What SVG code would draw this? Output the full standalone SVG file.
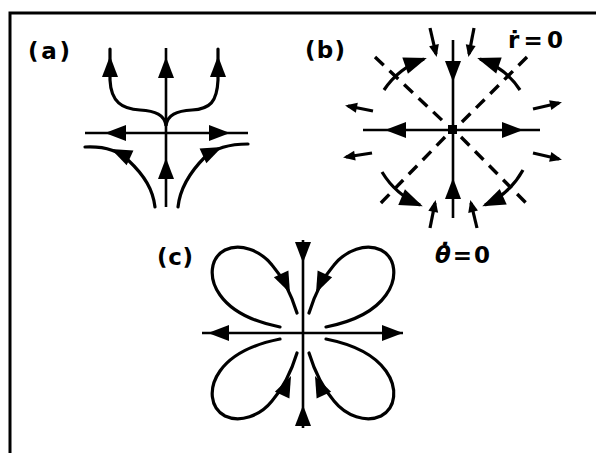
<svg xmlns="http://www.w3.org/2000/svg" xmlns:xlink="http://www.w3.org/1999/xlink" width="596" height="453" viewBox="0 0 596 453">
<style>
.ax{stroke:#000;stroke-width:2.6;fill:none}
.cv{stroke:#000;stroke-width:3.2;fill:none;stroke-linecap:round}
.ds{stroke:#000;stroke-width:3.4;fill:none;stroke-dasharray:12 8}
.sm{stroke:#000;stroke-width:3.2;fill:none;marker-end:url(#ms)}
.ar{stroke:#000;stroke-width:3.2;fill:none;marker-end:url(#mb)}
.lb{font-family:"DejaVu Sans","Liberation Sans",sans-serif;font-size:23px;font-weight:bold;fill:#000}
.hd{fill:#000}
</style>
<defs>
<path id="ah" d="M0,0 L-21,-8 L-21,8 Z"/>
<marker id="mb" viewBox="-24 -10 28 20" refX="0" refY="0" markerWidth="28" markerHeight="20" orient="auto" markerUnits="userSpaceOnUse"><path d="M3,0 L-20,-8.5 L-20,8.5 Z"/></marker>
<marker id="ms" viewBox="-12 -6 16 12" refX="0" refY="0" markerWidth="16" markerHeight="12" orient="auto" markerUnits="userSpaceOnUse"><path d="M3,0 L-9,-5 L-9,5 Z"/></marker>
</defs>
<rect x="10" y="13" width="620" height="480" fill="none" stroke="#000" stroke-width="3"/>

<g id="panel-a">
<text class="lb" x="28" y="59" textLength="42">(a)</text>
<path class="ax" d="M85,133 H248 M166,48 V207"/>
<path class="cv" d="M110,49 L110,80 C111,102 122,109 140,110 C156,111 164,115 166,125"/>
<path class="cv" d="M218,49 L218,80 C217,102 210,109 192,110 C176,111 168,115 166,125"/>
<path class="cv" d="M85,147 C105,146 118,150 128,160 C145,176 153,190 155,207"/>
<path class="cv" d="M248,144 C228,144 215,148 205,157 C190,172 180,188 178,207"/>
<g class="hd">
<use xlink:href="#ah" transform="translate(105,133) rotate(180)"/>
<use xlink:href="#ah" transform="translate(230,133)"/>
<use xlink:href="#ah" transform="translate(166,57) rotate(-90)"/>
<use xlink:href="#ah" transform="translate(166,158) rotate(-90)"/>
<use xlink:href="#ah" transform="translate(110,56) rotate(-90)"/>
<use xlink:href="#ah" transform="translate(218,56) rotate(-90)"/>
<use xlink:href="#ah" transform="translate(111,149) rotate(-155)"/>
<use xlink:href="#ah" transform="translate(222,147) rotate(-25)"/>
</g>
</g>

<g id="panel-b">
<text class="lb" x="305" y="58" textLength="40">(b)</text>
<text class="lb" x="508" y="48" font-size="22" textLength="55">ṙ=0</text>
<text class="lb" x="435" y="263" font-size="22" textLength="55"><tspan font-style="italic">θ̇</tspan>=0</text>
<path class="ds" d="M375,57 L445,123 M461,137 L530,207 M527,57 L461,123 M445,137 L377,207"/>
<path class="ax" d="M363,130 H540 M453,40 V218"/>
<rect x="448" y="125" width="9" height="9" fill="#000"/>
<g class="hd">
<use xlink:href="#ah" transform="translate(453,82) rotate(90)"/>
<use xlink:href="#ah" transform="translate(453,178) rotate(-90)"/>
<use xlink:href="#ah" transform="translate(385,130) rotate(180)"/>
<use xlink:href="#ah" transform="translate(523,130)"/>
</g>
<path class="ar" d="M384,90 A80,80 0 0 1 424,59"/>
<path class="ar" d="M520,90 A78,78 0 0 0 480,59"/>
<path class="ar" d="M382,172 A82,82 0 0 0 420,205"/>
<path class="ar" d="M523,170 A82,82 0 0 1 485,205"/>
<path class="sm" d="M430,28 L436,54"/>
<path class="sm" d="M474,28 L469,54"/>
<path class="sm" d="M373,111 L348,106"/>
<path class="sm" d="M533,109 L559,103"/>
<path class="sm" d="M372,153 L346,157"/>
<path class="sm" d="M533,153 L559,159"/>
<path class="sm" d="M430,228 L435,203"/>
<path class="sm" d="M477,228 L471,203"/>
</g>

<g id="panel-c">
<text class="lb" x="157" y="265" textLength="36">(c)</text>
<path class="ax" d="M202,333 H403 M303,240 V428"/>
<path class="cv" d="M280,327 C255,322 232,312 220,295 C208,278 210,258 225,250 C240,243 260,250 272,265 C285,280 293,300 297,313"/>
<path class="cv" d="M326,327 C351,322 374,312 386,295 C398,278 396,258 381,250 C366,243 346,250 334,265 C321,280 313,300 309,313"/>
<path class="cv" d="M280,339 C255,344 232,354 220,371 C208,388 210,408 225,416 C240,423 260,416 272,401 C285,386 293,366 297,353"/>
<path class="cv" d="M326,339 C351,344 374,354 386,371 C398,388 396,408 381,416 C366,423 346,416 334,401 C321,386 313,366 309,353"/>
<g class="hd">
<use xlink:href="#ah" transform="translate(303,263) rotate(90)"/>
<use xlink:href="#ah" transform="translate(303,405) rotate(-90)"/>
<use xlink:href="#ah" transform="translate(208,333) rotate(180)"/>
<use xlink:href="#ah" transform="translate(403,333)"/>
<use xlink:href="#ah" transform="translate(290,293) rotate(65)"/>
<use xlink:href="#ah" transform="translate(316,293) rotate(115)"/>
<use xlink:href="#ah" transform="translate(291,376) rotate(-65)"/>
<use xlink:href="#ah" transform="translate(315,376) rotate(-115)"/>
</g>
</g>
</svg>
